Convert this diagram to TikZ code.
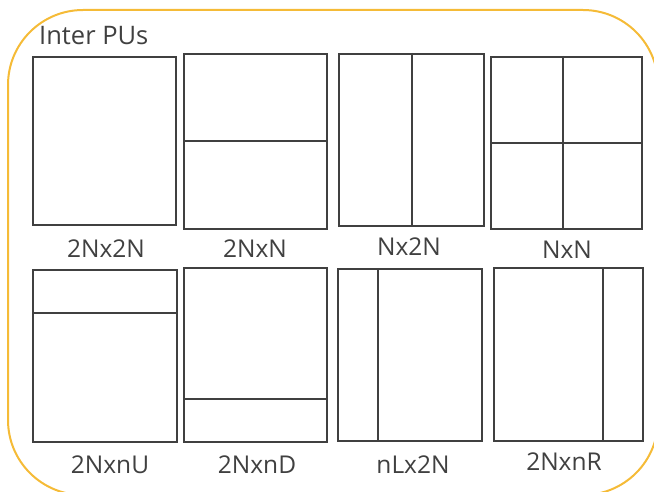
\documentclass[tikz,border=0pt]{standalone}
\usepackage{fontspec}
\setmainfont{Open Sans}
\usetikzlibrary{calc}
\definecolor{boxgray}{RGB}{64,64,64}
\definecolor{txtgray}{RGB}{64,64,64}
\definecolor{frameorange}{RGB}{245,187,55}
\begin{document}
\begin{tikzpicture}[x=1pt,y=-1pt,
  pu/.style={draw=boxgray, line width=2pt, inner sep=0pt},
  divider/.style={draw=boxgray, line width=2pt},
  lbl/.style={text=txtgray, font=\fontsize{24.5}{28}\selectfont, inner sep=0pt, anchor=center},
  frame/.style={draw=frameorange, line width=2pt, rounded corners=75pt}]
\useasboundingbox (0,0) rectangle (654,492);
\clip (0,0) rectangle (654,492);
\draw[frame] (8,10) rectangle (658,495);
\node[lbl, anchor=west, font=\fontsize{25.5}{29}\selectfont] (title) at (39,36) {Inter PUs};
% row 1
\node[pu, minimum width=143pt, minimum height=168pt] (a) at (104.5,141) {};
\node[pu, minimum width=143pt, minimum height=175pt] (b) at (255.5,141.5) {};
\node[pu, minimum width=145pt, minimum height=172pt] (c) at (411.5,140) {};
\node[pu, minimum width=151pt, minimum height=172pt] (d) at (566.5,143) {};
\draw[divider] ($(b.west)+(0,-0.5)$) -- ($(b.east)+(0,-0.5)$);
\draw[divider] (c.north) -- (c.south);
\draw[divider] ($(d.north west)!0.48!(d.north east)$) -- ($(d.south west)!0.48!(d.south east)$);
\draw[divider] (d.west) -- (d.east);
\node[lbl] (la) at (106,249) {2Nx2N};
\node[lbl] (lb) at (255,249) {2NxN};
\node[lbl] (lc) at (409,247) {Nx2N};
\node[lbl] (ld) at (567,250) {NxN};
% row 2
\node[pu, minimum width=144pt, minimum height=172pt] (e) at (105,356) {};
\node[pu, minimum width=143pt, minimum height=174pt] (f) at (255.5,355) {};
\node[pu, minimum width=144pt, minimum height=172pt] (g) at (410,355) {};
\node[pu, minimum width=149pt, minimum height=173pt] (h) at (568.5,354.5) {};
\draw[divider] ($(e.north west)!0.25!(e.south west)$) -- ($(e.north east)!0.25!(e.south east)$);
\draw[divider] ($(f.north west)!0.75!(f.south west)$) -- ($(f.north east)!0.75!(f.south east)$);
\draw[divider] ($(g.north west)!0.278!(g.north east)$) -- ($(g.south west)!0.278!(g.south east)$);
\draw[divider] ($(h.north west)!0.73!(h.north east)$) -- ($(h.south west)!0.73!(h.south east)$);
\node[lbl] (le) at (110,465) {2NxnU};
\node[lbl] (lf) at (257,465) {2NxnD};
\node[lbl] (lg) at (413,465) {nLx2N};
\node[lbl] (lh) at (564,462) {2NxnR};
\end{tikzpicture}
\end{document}
